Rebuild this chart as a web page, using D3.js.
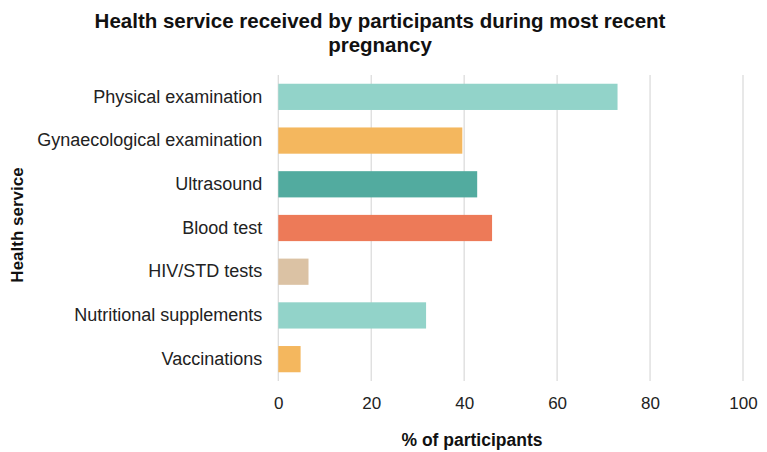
<!DOCTYPE html>
<html>
<head>
<meta charset="utf-8">
<script src="https://cdn.jsdelivr.net/npm/d3@7"></script>
<style>
  html, body { margin: 0; padding: 0; background: #fff; }
  svg { display: block; font-family: "Liberation Sans", Arial, Helvetica, sans-serif; }
</style>
</head>
<body>
<svg id="chart" width="767" height="452"></svg>
<script>
// Health services received during most recent pregnancy (% of participants)
const services = [
  "Physical examination",
  "Gynaecological examination",
  "Ultrasound",
  "Blood test",
  "HIV/STD tests",
  "Nutritional supplements",
  "Vaccinations"
];
const percentages = [73, 39.6, 42.8, 46, 6.5, 31.8, 4.8];
const barColors = ["#92d3c9", "#f4b75e", "#52ab9f", "#ed7a58", "#dbc2a4", "#92d3c9", "#f4b75e"];
const xTicks = [0, 20, 40, 60, 80, 100];

const titleLines = ["Health service received by participants during most recent", "pregnancy"];
const xTitle = "% of participants";
const yTitle = "Health service";

const data = services.map((s, i) => ({ service: s, value: percentages[i], color: barColors[i] }));

const svg = d3.select("#chart");
const margin = { left: 278.3, right: 24, top: 75, bottom: 71 };
const W = 767, H = 452;

const x = d3.scaleLinear().domain([0, 100]).range([margin.left, W - margin.right]);
const y = d3.scaleBand().domain(services).range([margin.top, H - margin.bottom])
  .paddingInner(0.4).paddingOuter(0.2);

// vertical gridlines
svg.append("g")
  .selectAll("line")
  .data(xTicks)
  .join("line")
  .attr("x1", d => x(d)).attr("x2", d => x(d))
  .attr("y1", margin.top).attr("y2", H - margin.bottom)
  .attr("stroke", "#dcdcdc")
  .attr("stroke-width", 1.3);

// bars
svg.append("g")
  .selectAll("rect")
  .data(data)
  .join("rect")
  .attr("x", x(0))
  .attr("y", d => y(d.service))
  .attr("width", d => x(d.value) - x(0))
  .attr("height", y.bandwidth())
  .attr("fill", d => d.color);

// x axis tick labels
const xAxis = d3.axisBottom(x).tickValues(xTicks).tickSize(0).tickPadding(0).tickFormat(d3.format("d"));
const gx = svg.append("g")
  .attr("transform", `translate(0,${H - margin.bottom})`)
  .call(xAxis);
gx.select(".domain").remove();
gx.selectAll("text")
  .attr("y", 22)
  .attr("dy", "0.35em")
  .attr("font-size", 17)
  .attr("font-family", "Liberation Sans, Arial, sans-serif")
  .attr("fill", "#222");

// y axis category labels
const yAxis = d3.axisLeft(y).tickSize(0).tickPadding(16);
const gy = svg.append("g")
  .attr("transform", `translate(${margin.left},0)`)
  .call(yAxis);
gy.select(".domain").remove();
gy.selectAll("text")
  .attr("font-size", 18)
  .attr("font-family", "Liberation Sans, Arial, sans-serif")
  .attr("fill", "#222");

// chart title
svg.append("text")
  .attr("x", 380)
  .attr("y", 28)
  .attr("text-anchor", "middle")
  .attr("font-size", 20.5)
  .attr("font-weight", "bold")
  .attr("fill", "#111")
  .selectAll("tspan")
  .data(titleLines)
  .join("tspan")
  .attr("x", 380)
  .attr("dy", (d, i) => i === 0 ? 0 : 24)
  .text(d => d);

// x axis title
svg.append("text")
  .attr("x", 472)
  .attr("y", 446)
  .attr("text-anchor", "middle")
  .attr("font-size", 17.5)
  .attr("font-weight", "bold")
  .attr("fill", "#111")
  .text(xTitle);

// y axis title
svg.append("text")
  .attr("transform", `translate(23,225) rotate(-90)`)
  .attr("text-anchor", "middle")
  .attr("font-size", 17)
  .attr("font-weight", "bold")
  .attr("fill", "#111")
  .text(yTitle);
</script>
</body>
</html>
